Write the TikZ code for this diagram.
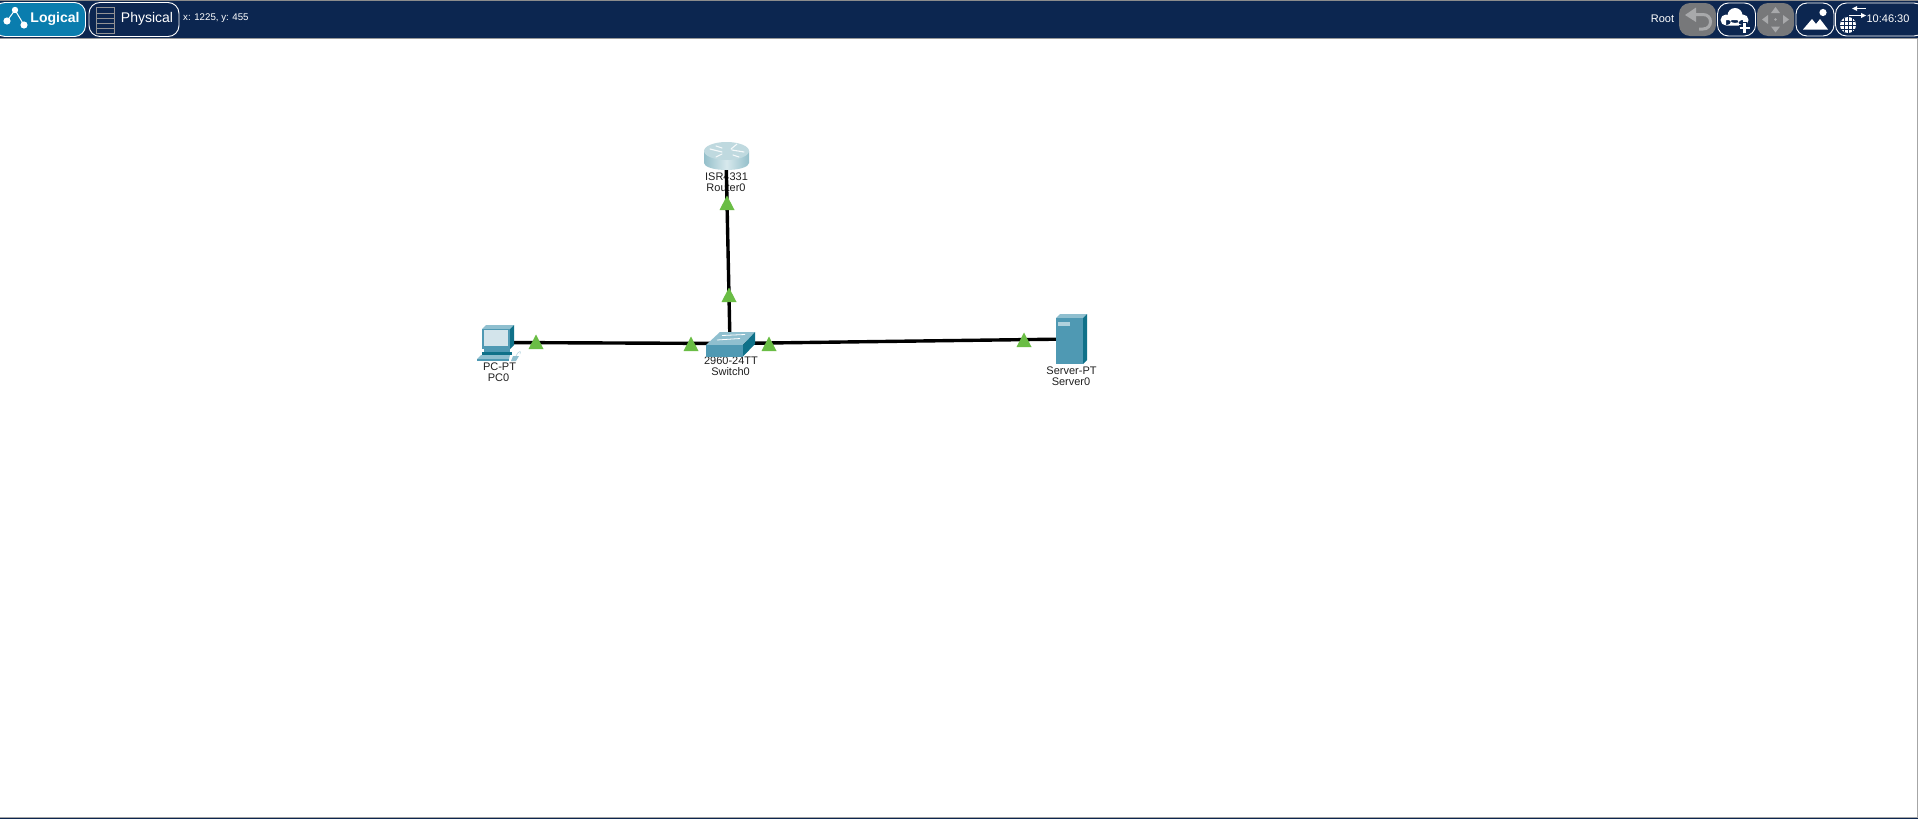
\documentclass[tikz,border=0pt]{standalone}
\usepackage{fontspec}
\setmainfont{Liberation Sans}
\definecolor{navy}{HTML}{0C2650}
\definecolor{logicalblue}{HTML}{0A7DAE}
\definecolor{btngray}{HTML}{77787A}
\definecolor{btnicon}{HTML}{A8A9AB}
\definecolor{tri}{HTML}{6ABD45}
\definecolor{tealfront}{HTML}{4F99B3}
\definecolor{tealtop}{HTML}{8FBFCF}
\definecolor{tealside}{HTML}{0F7189}
\definecolor{labelc}{HTML}{202020}
\definecolor{rdark}{HTML}{94BFCA}
\definecolor{rlight}{HTML}{D8E9ED}
\definecolor{rtop}{HTML}{BFD9DF}
\definecolor{screenc}{HTML}{D3E4EB}
\tikzset{
  btn/.style={draw=white,line width=0.9pt,rounded corners=11pt,fill=navy},
  graybtn/.style={fill=btngray,rounded corners=11pt},
  link/.style={draw=black,line width=3.4pt},
  marker/.style={fill=tri},
  devlabel/.style={font=\fontsize{11}{11}\selectfont,text=labelc,inner sep=0pt,anchor=center},
  hdr/.style={text=white,inner sep=0pt,anchor=center},
  dev/.style={inner sep=0pt,minimum size=2pt},
}
\newcommand{\tmark}[2]{\fill[marker] (#1-7.5,#2+7) -- (#1+7.5,#2+7) -- (#1,#2-7.5) -- cycle;}
\begin{document}
\begin{tikzpicture}[x=1pt,y=-1pt]
\useasboundingbox (0,0) rectangle (1918,819);
\fill[white] (0,0) rectangle (1918,819);
\fill[black!35] (0,817) rectangle (1918,818);
\fill[navy] (0,818) rectangle (1918,819);
\fill[black!35] (1917,0) rectangle (1918,818);
% header
\fill[navy] (0,0) rectangle (1918,38);
\fill[black!45] (0,0) rectangle (1918,1);
\fill[black!40] (0,38) rectangle (1918,39);
% Logical
\draw[btn,fill=logicalblue] (-6,2.5) rectangle (85.5,36.5);
\draw[white,line width=1pt] (7,21) -- (15,10) -- (24,25);
\fill[white] (7,21) circle (3.6) (15,10) circle (3.2) (24,25) circle (3.6);
\node[hdr,font=\fontsize{14}{14}\selectfont\bfseries] (logical) at (55,18.5) {Logical};
% Physical
\draw[btn] (89,2.5) rectangle (179,36.5);
\draw[btngray!80!white,line width=0.8pt] (96.5,7.5) rectangle (114.5,33.5);
\foreach \yy in {13,18,23,28}{\draw[btngray!80!white,line width=0.8pt] (96.5,\yy) -- (114.5,\yy);}
\node[hdr,font=\fontsize{14}{14}\selectfont] (physical) at (147,18.5) {Physical};
\node[hdr,font=\fontsize{9.7}{9.7}\selectfont,anchor=west] (coords) at (183,18.5) {x: 1225, y: 455};
% right side
\node[hdr,font=\fontsize{11}{11}\selectfont] (root) at (1662.5,18.5) {Root};
\fill[graybtn] (1679,3) rectangle (1716,36);
\draw[btnicon,line width=3pt] (1690,14.5) -- (1703,14.5) .. controls (1713,14.5) and (1713,29) .. (1703,29) -- (1699,29);
\fill[btnicon] (1685,15) -- (1696,7.5) -- (1696,22) -- cycle;
\draw[btn] (1717.5,3) rectangle (1755.5,36);
\fill[white] (1726,20) circle (5.5) (1735,15.5) circle (7.5) (1743,20) circle (5.5) (1726,20) rectangle (1743,25.5);
\draw[navy,line width=5.5pt] (1744.5,22) -- (1744.5,33) (1738.5,28) -- (1750.5,28);
\draw[white,line width=2.6pt] (1744.5,23) -- (1744.5,33) (1739.5,28) -- (1749.5,28);
\fill[graybtn] (1757,3) rectangle (1794,36);
\fill[btnicon] (1775.5,7) -- (1771,13) -- (1780,13) -- cycle (1775.5,32.5) -- (1771,26.5) -- (1780,26.5) -- cycle
  (1762,19.5) -- (1768,15) -- (1768,24) -- cycle (1789,19.5) -- (1783,15) -- (1783,24) -- cycle (1775.5,19.5) circle (1.4);
\draw[btn] (1796,3) rectangle (1834,36);
\fill[white] (1803,29.5) -- (1812,19) -- (1816,24) -- (1820,19) -- (1828,29.5) -- cycle;
\fill[white] (1823,12.5) circle (3.6);
\draw[btn] (1835.5,3) rectangle (1925,36);
\fill[white] (1848,25) circle (8);
\draw[navy,line width=0.6pt] (1840,25) -- (1856,25) (1841,21) -- (1855,21) (1841,29) -- (1855,29) (1848,17) -- (1848,33) (1844,18) -- (1844,32) (1852,18) -- (1852,32);
\draw[white,line width=1.4pt] (1856,8.5) -- (1866,8.5) (1849,15.5) -- (1863,15.5);
\fill[white] (1852,8.5) -- (1857,6) -- (1857,11) -- cycle (1866,15.5) -- (1861,13) -- (1861,18) -- cycle;
\node[hdr,font=\fontsize{11}{11}\selectfont] (clock) at (1888,18.5) {10:46:30};
% labels (below links)
\node[devlabel] (routerA) at (726.5,177) {ISR4331};
\node[devlabel] (routerB) at (726,188) {Router0};
\node[devlabel] (switchA) at (731,361) {2960-24TT};
\node[devlabel] (switchB) at (730.5,372) {Switch0};
\node[devlabel] (pcA) at (499.5,367) {PC-PT};
\node[devlabel] (pcB) at (498.5,378) {PC0};
\node[devlabel] (serverA) at (1071.5,371) {Server-PT};
\node[devlabel] (serverB) at (1071,382) {Server0};
% device anchors
\node[dev] (router) at (726,155) {};
\node[dev] (switch) at (730,343.5) {};
\node[dev] (pc) at (500,342.5) {};
\node[dev] (server) at (1071,339) {};
% links
\draw[link] (router) -- (switch);
\draw[link] (pc) -- (switch);
\draw[link] (switch) -- (server);
% markers
\tmark{727}{203}
\tmark{729}{295}
\tmark{691}{344}
\tmark{769}{344}
\tmark{536}{342}
\tmark{1024}{340}
% router
\shade[left color=rdark,right color=rdark,middle color=rlight]
  (704,151) -- (704,163) arc[start angle=180,end angle=0,x radius=22.5,y radius=7] -- (749,151) -- cycle;
\fill[rtop] (726.5,151) ellipse[x radius=22.5,y radius=9];
\draw[white!85!rtop,line width=1.1pt,line cap=round] (710,149) -- (722,152) (732,150) -- (744,152) (716,157) -- (722,154) (731,149) -- (737,144) (716,146) -- (722,148) (733,155) -- (739,157);
% switch
\fill[tealtop] (706,345) -- (720,332) -- (755,332) -- (743,345) -- cycle;
\fill[tealfront] (706,345) rectangle (743,356.5);
\fill[tealside] (743,345) -- (755,332) -- (755,344) -- (743,356.5) -- cycle;
\draw[white,line width=0.8pt] (722,335.5) -- (745,334.5) (717,340) -- (740,338.5);
% pc
\fill[tealtop] (482,329) -- (486,325) -- (514,325) -- (510,329) -- cycle;
\fill[tealfront] (482,329) rectangle (510,349);
\fill[tealside] (510,329) -- (514,325) -- (514,345) -- (510,349) -- cycle;
\fill[screenc] (484,330) rectangle (508,345.5);
\fill[tealfront] (484,349) rectangle (510,352);
\fill[tealside] (482,352) rectangle (512,354.5);
\fill[tealtop] (481,355) -- (510,355) -- (509,359) -- (477,359) -- cycle;
\fill[tealfront] (477,359) rectangle (509,361);
\fill[tealtop] (513,356) -- (519,356) -- (516,361) -- (511,361) -- cycle;
\draw[tealtop!60!white,line width=0.6pt] (516,356) .. controls (518,351) and (522,350) .. (520,354);
% server
\fill[tealtop] (1056,318) -- (1060,314) -- (1087,314) -- (1083,318) -- cycle;
\fill[tealfront] (1056,318) rectangle (1083,364);
\fill[tealside] (1083,318) -- (1087,314) -- (1087,360) -- (1083,364) -- cycle;
\fill[tealtop!70!white] (1058,322) rectangle (1070,325.5);
\end{tikzpicture}
\end{document}
